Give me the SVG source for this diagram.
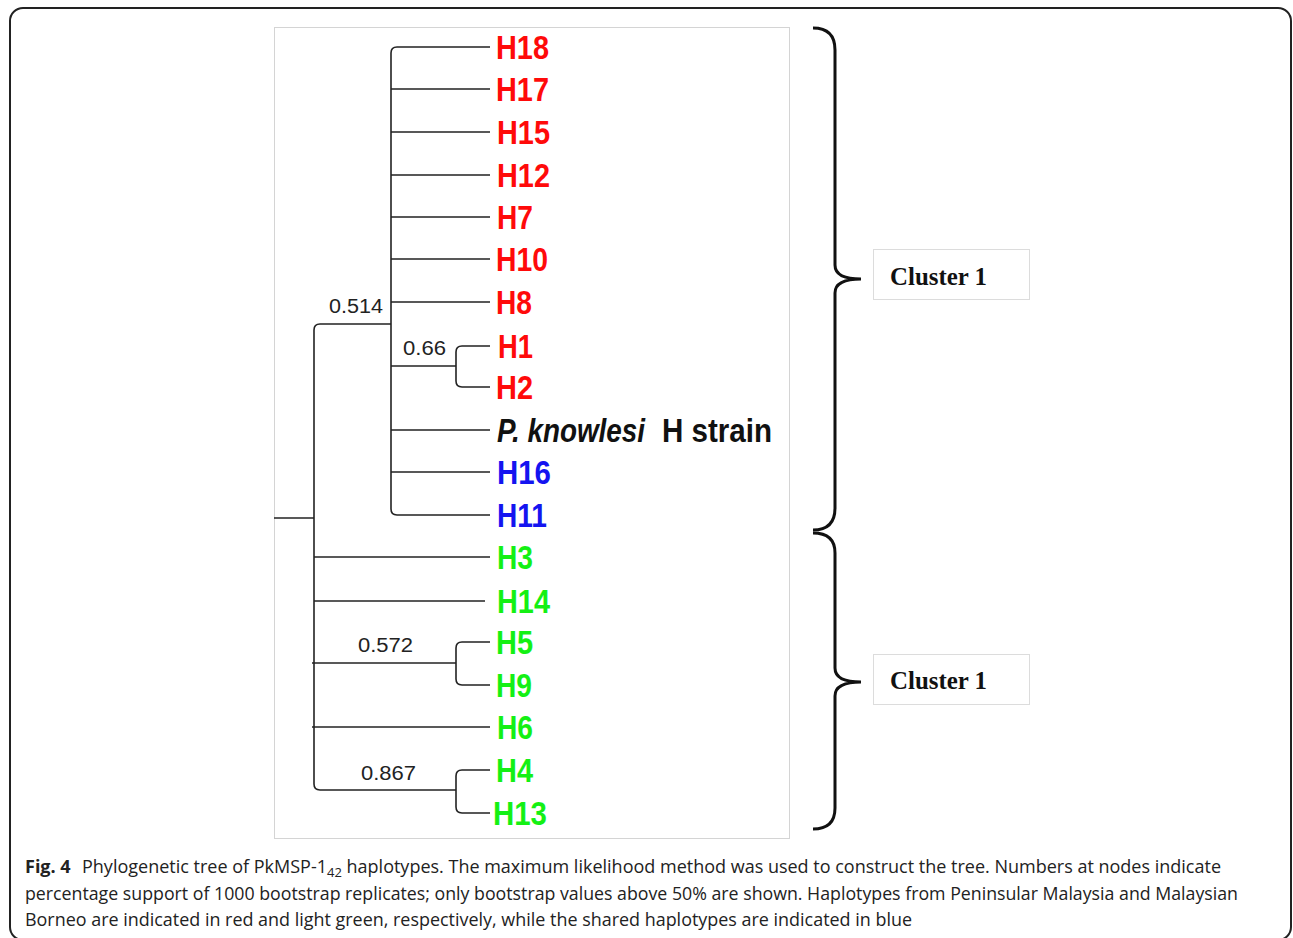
<svg xmlns="http://www.w3.org/2000/svg" width="1293" height="938" viewBox="0 0 1293 938">
<style>
.br{fill:none;stroke:#222;stroke-width:1.6}
.brace{fill:none;stroke:#111;stroke-width:3}
.lf{font-family:"Liberation Sans",Arial,sans-serif;font-weight:bold;font-size:33px}
.r{fill:#ff0a0a}
.b{fill:#1414f0}
.g{fill:#14f014}
.k{fill:#111}
.bs{font-family:"Liberation Sans",Arial,sans-serif;font-size:20px;fill:#222}
.cl{font-family:"Liberation Serif","Times New Roman",serif;font-weight:bold;font-size:25px;fill:#111}
.cap{font-family:"Open Sans","Noto Sans",sans-serif;font-size:18px;fill:#222}
</style>
<rect width="1293" height="938" fill="#fff"/>
<rect x="10" y="8" width="1281" height="932" rx="13" fill="none" stroke="#222" stroke-width="2"/>
<rect id="panel" x="274.5" y="27.5" width="515" height="811" fill="none" stroke="#d4d4d4" stroke-width="1"/>
<g id="connectors">
<path class="br" d="M274,518 H314"/>
<path class="br" d="M391,324 H320 Q314,324 314,330 V784 Q314,790 320,790 H456"/>
<path class="br" d="M314,557 H490"/>
<path class="br" d="M314,601 H485"/>
<path class="br" d="M312,663 H456"/>
<path class="br" d="M312,727 H490"/>
<path class="br" d="M490,47 H397 Q391,47 391,53 V509 Q391,515 397,515 H490"/>
<path class="br" d="M391,89 H490 M391,132 H490 M391,175 H490 M391,217 H490 M391,259 H490 M391,302 H490 M391,430 H490 M391,472 H490"/>
<path class="br" d="M391,366 H456"/>
<path class="br" d="M490,346 H462 Q456,346 456,352 V381 Q456,387 462,387 H490"/>
<path class="br" d="M490,642 H462 Q456,642 456,648 V679 Q456,685 462,685 H490"/>
<path class="br" d="M490,770 H462 Q456,770 456,776 V807 Q456,813 462,813 H490"/>
</g>
<g id="bootstrap">
<text class="bs" x="329" y="313" textLength="54" lengthAdjust="spacingAndGlyphs">0.514</text>
<text class="bs" x="403" y="355" textLength="43" lengthAdjust="spacingAndGlyphs">0.66</text>
<text class="bs" x="358" y="652" textLength="55" lengthAdjust="spacingAndGlyphs">0.572</text>
<text class="bs" x="361" y="780" textLength="55" lengthAdjust="spacingAndGlyphs">0.867</text>
</g>
<g id="H18"><text class="lf r" x="496" y="59" textLength="53" lengthAdjust="spacingAndGlyphs">H18</text></g>
<g id="H17"><text class="lf r" x="496" y="101" textLength="53" lengthAdjust="spacingAndGlyphs">H17</text></g>
<g id="H15"><text class="lf r" x="497" y="144" textLength="53" lengthAdjust="spacingAndGlyphs">H15</text></g>
<g id="H12"><text class="lf r" x="497" y="187" textLength="53" lengthAdjust="spacingAndGlyphs">H12</text></g>
<g id="H7"><text class="lf r" x="497" y="229" textLength="36" lengthAdjust="spacingAndGlyphs">H7</text></g>
<g id="H10"><text class="lf r" x="496" y="271" textLength="52" lengthAdjust="spacingAndGlyphs">H10</text></g>
<g id="H8"><text class="lf r" x="496" y="314" textLength="36" lengthAdjust="spacingAndGlyphs">H8</text></g>
<g id="H1"><text class="lf r" x="498" y="358" textLength="35" lengthAdjust="spacingAndGlyphs">H1</text></g>
<g id="H2"><text class="lf r" x="496" y="399" textLength="37" lengthAdjust="spacingAndGlyphs">H2</text></g>
<g id="Pk"><text class="lf k" x="497" y="442" font-style="italic" textLength="148" lengthAdjust="spacingAndGlyphs">P. knowlesi</text><text class="lf k" x="662" y="442" textLength="110" lengthAdjust="spacingAndGlyphs">H strain</text></g>
<g id="H16"><text class="lf b" x="497" y="484" textLength="54" lengthAdjust="spacingAndGlyphs">H16</text></g>
<g id="H11"><text class="lf b" x="497" y="527" textLength="50" lengthAdjust="spacingAndGlyphs">H11</text></g>
<g id="H3"><text class="lf g" x="497" y="569" textLength="36" lengthAdjust="spacingAndGlyphs">H3</text></g>
<g id="H14"><text class="lf g" x="497" y="613" textLength="53" lengthAdjust="spacingAndGlyphs">H14</text></g>
<g id="H5"><text class="lf g" x="496" y="654" textLength="37" lengthAdjust="spacingAndGlyphs">H5</text></g>
<g id="H9"><text class="lf g" x="496" y="697" textLength="36" lengthAdjust="spacingAndGlyphs">H9</text></g>
<g id="H6"><text class="lf g" x="497" y="739" textLength="36" lengthAdjust="spacingAndGlyphs">H6</text></g>
<g id="H4"><text class="lf g" x="496" y="782" textLength="37" lengthAdjust="spacingAndGlyphs">H4</text></g>
<g id="H13"><text class="lf g" x="493" y="825" textLength="54" lengthAdjust="spacingAndGlyphs">H13</text></g>
<g id="brace1"><path class="brace" d="M813,28 Q835,28 835,50 V265 Q835,279 861,279 Q835,279 835,293 V508 Q835,530 813,530"/></g>
<g id="brace2"><path class="brace" d="M813,533 Q835,533 835,553 V668 Q835,682 861,682 Q835,682 835,696 V808 Q835,829 813,829"/></g>
<g id="cluster1a"><rect x="873.5" y="249.5" width="156" height="50" fill="#fff" stroke="#dcdcdc" stroke-width="1"/><text class="cl" x="890" y="285" textLength="97" lengthAdjust="spacingAndGlyphs">Cluster 1</text></g>
<g id="cluster1b"><rect x="873.5" y="654.5" width="156" height="50" fill="#fff" stroke="#dcdcdc" stroke-width="1"/><text class="cl" x="890" y="689" textLength="97" lengthAdjust="spacingAndGlyphs">Cluster 1</text></g>
<g id="caption">
<text class="cap" x="25" y="873" font-weight="bold">Fig. 4</text>
<text class="cap" x="82" y="873" textLength="1139" lengthAdjust="spacingAndGlyphs">Phylogenetic tree of PkMSP-1<tspan font-size="13px" dy="4">42</tspan><tspan dy="-4"> haplotypes. The maximum likelihood method was used to construct the tree. Numbers at nodes indicate</tspan></text>
<text class="cap" x="25" y="900" textLength="1213" lengthAdjust="spacingAndGlyphs">percentage support of 1000 bootstrap replicates; only bootstrap values above 50% are shown. Haplotypes from Peninsular Malaysia and Malaysian</text>
<text class="cap" x="25" y="926" textLength="887" lengthAdjust="spacingAndGlyphs">Borneo are indicated in red and light green, respectively, while the shared haplotypes are indicated in blue</text>
</g>
</svg>
